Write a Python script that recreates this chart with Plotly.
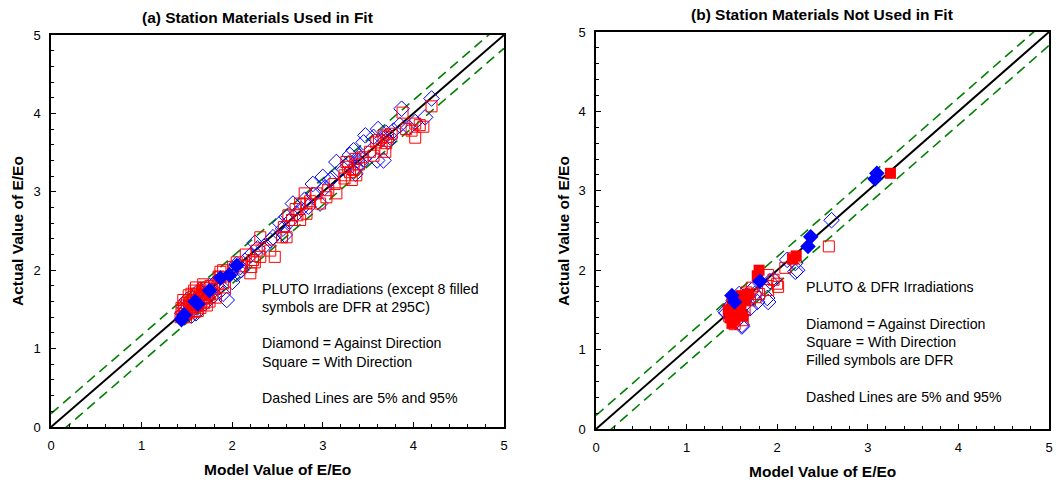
import plotly.graph_objects as go

# ---------------- Data: panel (a) ----------------
a_diam_x = [4.20, 3.87, 4.13, 4.02, 3.85, 3.70, 3.74, 3.61, 3.47, 3.45, 3.45, 3.34, 3.38, 3.36, 3.42, 3.15,
            3.30, 3.22, 3.10, 3.72, 3.78, 3.66, 3.56, 3.28, 3.40, 3.95, 3.60, 3.67, 3.36,
            3.00, 3.08, 2.89, 2.67, 2.84, 2.71, 2.60, 2.56, 2.45, 2.42, 2.97, 2.80, 2.90, 2.63, 2.53, 3.02, 2.76, 2.58,
            2.28, 2.20, 2.05, 2.09, 2.10, 1.94, 1.90, 2.00, 2.35, 2.25, 2.14, 1.98, 2.05,
            1.45, 1.48, 1.52, 1.55, 1.58, 1.62, 1.65, 1.68, 1.72, 1.75, 1.78, 1.82, 1.50, 1.46, 1.60, 1.70, 1.85,
            1.55, 1.64, 1.80]
a_diam_y = [4.19, 4.06, 3.95, 3.89, 3.85, 3.75, 3.70, 3.80, 3.72, 3.63, 3.42, 3.53, 3.40, 3.31, 3.36, 3.38,
            3.47, 3.30, 3.17, 3.64, 3.78, 3.68, 3.70, 3.36, 3.45, 3.82, 3.40, 3.40, 3.23,
            3.19, 3.15, 3.10, 2.85, 2.81, 2.72, 2.68, 2.53, 2.42, 2.38, 2.85, 2.90, 2.96, 2.62, 2.60, 3.05, 2.78, 2.45,
            2.28, 2.19, 2.08, 2.04, 2.00, 1.62, 1.70, 1.85, 2.30, 2.35, 2.12, 1.95, 1.95,
            1.45, 1.52, 1.48, 1.58, 1.52, 1.65, 1.60, 1.70, 1.66, 1.80, 1.72, 1.85, 1.62, 1.40, 1.45, 1.58, 1.78,
            1.42, 1.75, 1.68]

a_sq_x = [3.88, 4.20, 4.02, 4.11, 4.02, 3.98, 4.07, 3.67, 3.72, 3.59, 3.65, 3.69, 3.52, 3.56, 3.76, 3.70, 3.62,
          3.26, 3.24, 3.30, 3.24, 3.32, 3.37, 3.36, 3.40, 3.34, 3.44, 3.28, 3.13, 3.06, 3.15, 3.92,
          2.97, 2.80, 2.75, 2.82, 2.66, 2.75, 2.60, 2.55, 2.31, 2.42, 2.47, 2.27, 2.31, 2.23, 2.21,
          3.04, 2.82, 2.70, 2.86, 2.57, 2.62, 2.93, 2.72,
          2.20, 2.25, 1.90, 2.01, 1.87, 1.90, 2.10, 2.15, 2.05,
          1.43, 1.45, 1.47, 1.48, 1.50, 1.50, 1.52, 1.53, 1.54, 1.55, 1.56, 1.57, 1.58, 1.59, 1.60, 1.61,
          1.62, 1.63, 1.64, 1.65, 1.66, 1.67, 1.68, 1.69, 1.70, 1.71, 1.72, 1.74, 1.75, 1.76, 1.78, 1.80,
          1.82, 1.84, 1.46, 1.44, 1.52, 1.58, 1.62, 1.68, 1.49, 1.55, 1.72, 1.60, 1.47, 1.66, 1.57, 1.53,
          1.87, 1.85, 1.92, 1.69]
a_sq_y = [4.01, 4.09, 3.87, 3.83, 3.69, 3.78, 3.85, 3.72, 3.70, 3.63, 3.55, 3.51, 3.51, 3.46, 3.74, 3.62, 3.66,
          3.38, 3.21, 3.25, 3.17, 3.15, 3.21, 3.42, 3.35, 3.28, 3.44, 3.32, 3.10, 3.02, 2.98, 3.80,
          2.85, 2.98, 2.85, 2.72, 2.64, 2.64, 2.42, 2.42, 2.42, 2.25, 2.17, 2.25, 2.17, 2.13, 2.04,
          2.93, 2.85, 2.78, 2.88, 2.55, 2.70, 2.98, 2.70,
          1.96, 2.10, 2.00, 2.04, 1.91, 1.83, 2.05, 2.20, 2.10,
          1.40, 1.48, 1.55, 1.44, 1.50, 1.58, 1.45, 1.62, 1.53, 1.48, 1.58, 1.66, 1.55, 1.47, 1.60, 1.70,
          1.55, 1.63, 1.68, 1.52, 1.60, 1.74, 1.66, 1.58, 1.70, 1.78, 1.64, 1.72, 1.60, 1.80, 1.70, 1.76,
          1.65, 1.82, 1.62, 1.52, 1.68, 1.74, 1.48, 1.82, 1.40, 1.70, 1.55, 1.78, 1.50, 1.68, 1.60, 1.56,
          1.98, 1.92, 1.78, 1.77]

a_fdiam_x = [1.44, 1.47, 1.59, 1.62, 1.75, 1.87, 1.97, 2.05]
a_fdiam_y = [1.37, 1.43, 1.60, 1.57, 1.74, 1.90, 1.94, 2.06]

# ---------------- Data: panel (b) ----------------
b_diam_x = [2.60, 2.11, 2.20, 2.20, 2.22, 1.89, 1.90, 1.72, 1.61, 1.44, 1.61, 1.96, 1.92, 1.48, 1.55, 1.52,
            1.58, 1.65, 1.68, 1.50, 1.70, 1.62, 1.78, 1.54, 1.75, 1.43]
b_diam_y = [2.63, 2.13, 2.09, 1.98, 2.00, 1.65, 1.60, 1.75, 1.31, 1.46, 1.29, 1.88, 1.86, 1.55, 1.50, 1.62,
            1.70, 1.58, 1.68, 1.40, 1.52, 1.45, 1.60, 1.35, 1.70, 1.48]

b_sq_x = [2.57, 2.18, 2.09, 2.01, 1.96, 1.90, 1.90, 2.00, 1.62, 1.70, 1.66, 1.76, 1.58, 1.50, 1.55, 1.64,
          1.72, 1.80, 1.47, 1.53]
b_sq_y = [2.30, 2.15, 2.03, 1.79, 1.88, 1.94, 1.75, 1.83, 1.37, 1.62, 1.72, 1.66, 1.55, 1.48, 1.64, 1.50,
          1.78, 1.70, 1.42, 1.32]

b_fsq_x = [3.25, 2.21, 2.17, 1.80, 1.78, 1.50, 1.52, 1.55, 1.57, 1.48, 1.53, 1.60, 1.58, 1.50, 1.55, 1.62,
           1.65, 1.46, 1.68, 1.60]
b_fsq_y = [3.22, 2.18, 2.14, 2.00, 1.93, 1.58, 1.50, 1.45, 1.55, 1.40, 1.38, 1.48, 1.62, 1.33, 1.60, 1.42,
           1.62, 1.50, 1.70, 1.68]

b_fdiam_x = [3.08, 3.10, 2.37, 2.34, 1.81, 1.50, 1.53]
b_fdiam_y = [3.15, 3.22, 2.42, 2.30, 1.86, 1.68, 1.60]

line_x = [0, 5]
line_y = [0, 5]
band = 0.17
upper_y = [0 + band, 5 + band]
lower_y = [0 - band, 5 - band]

W, H = 1060, 483
FONT = "Liberation Sans, Arial, sans-serif"

fig = go.Figure()

BLUE = "#0000FF"
RED = "#FF0000"
GREEN = "#008000"


def add_panel(xa, ya, diam, sq, fdiam, fsq):
    for yy in (upper_y, lower_y):
        fig.add_trace(go.Scatter(x=line_x, y=yy, mode="lines", xaxis=xa, yaxis=ya,
                                 line=dict(color=GREEN, width=1.6, dash="10px,6px"),
                                 showlegend=False, hoverinfo="skip"))
    fig.add_trace(go.Scatter(x=line_x, y=line_y, mode="lines", xaxis=xa, yaxis=ya,
                             line=dict(color="black", width=2), showlegend=False, hoverinfo="skip"))
    if diam:
        fig.add_trace(go.Scatter(x=diam[0], y=diam[1], mode="markers", xaxis=xa, yaxis=ya,
                                 marker=dict(symbol="diamond-open", size=12, color=BLUE, line=dict(width=1)),
                                 showlegend=False))
    if sq:
        fig.add_trace(go.Scatter(x=sq[0], y=sq[1], mode="markers", xaxis=xa, yaxis=ya,
                                 marker=dict(symbol="square-open", size=11, color=RED, line=dict(width=1)),
                                 showlegend=False))
    if fsq:
        fig.add_trace(go.Scatter(x=fsq[0], y=fsq[1], mode="markers", xaxis=xa, yaxis=ya,
                                 marker=dict(symbol="square", size=11, color=RED), showlegend=False))
    if fdiam:
        fig.add_trace(go.Scatter(x=fdiam[0], y=fdiam[1], mode="markers", xaxis=xa, yaxis=ya,
                                 marker=dict(symbol="diamond", size=12, color=BLUE), showlegend=False))


add_panel("x", "y", (a_diam_x, a_diam_y), (a_sq_x, a_sq_y), (a_fdiam_x, a_fdiam_y), None)
add_panel("x2", "y2", (b_diam_x, b_diam_y), (b_sq_x, b_sq_y), (b_fdiam_x, b_fdiam_y), (b_fsq_x, b_fsq_y))

ax_common = dict(range=[0, 5], dtick=1, showgrid=False, zeroline=False, showline=True,
                 linecolor="black", linewidth=1.5, mirror=True, ticks="inside", ticklen=5,
                 tickcolor="black", tickwidth=1.2,
                 minor=dict(dtick=0.2, ticks="inside", ticklen=3, tickcolor="black", tickwidth=1.2, showgrid=False),
                 tickfont=dict(family=FONT, size=13, color="black"), fixedrange=True, automargin=False)


def px2fx(p):
    return p / W


def py2fy(p):
    return 1 - p / H


fig.update_layout(
    width=W, height=H,
    margin=dict(l=0, r=0, t=0, b=0),
    paper_bgcolor="white", plot_bgcolor="white",
    font=dict(family=FONT, color="black"),
    xaxis=dict(ax_common, domain=[px2fx(51), px2fx(504)], anchor="y", ticklabelstandoff=6),
    yaxis=dict(ax_common, domain=[py2fy(427), py2fy(35)], anchor="x", ticklabelstandoff=6),
    xaxis2=dict(ax_common, domain=[px2fx(596), px2fx(1049)], anchor="y2", ticklabelstandoff=6),
    yaxis2=dict(ax_common, domain=[py2fy(429), py2fy(32)], anchor="x2", ticklabelstandoff=6),
)

anns = []


def text(x, y, s, size=14, bold=False, xanchor="left", angle=0):
    anns.append(dict(x=px2fx(x), y=py2fy(y), xref="paper", yref="paper", text=("<b>%s</b>" % s) if bold else s,
                     showarrow=False, xanchor=xanchor, yanchor="middle", align="left", textangle=angle,
                     font=dict(family=FONT, size=size, color="black")))


TS = 15.5
text(257, 17, "(a) Station Materials Used in Fit", size=TS, bold=True, xanchor="center")
text(822, 14, "(b) Station Materials Not Used in Fit", size=TS, bold=True, xanchor="center")
text(277, 469, "Model Value of E/Eo", size=TS, bold=True, xanchor="center")
text(822, 471, "Model Value of E/Eo", size=TS, bold=True, xanchor="center")
text(17, 231, "Actual Value of E/Eo", size=TS, bold=True, xanchor="center", angle=-90)
text(563, 231, "Actual Value of E/Eo", size=TS, bold=True, xanchor="center", angle=-90)

NS = 14.2
text(260, 289, "PLUTO Irradiations (except 8 filled", size=NS)
text(260, 307, "symbols are DFR at 295C)", size=NS)
text(260, 343, "Diamond = Against Direction", size=NS)
text(260, 362, "Square = With Direction", size=NS)
text(260, 398, "Dashed Lines are 5% and 95%", size=NS)

text(804, 287, "PLUTO & DFR Irradiations", size=NS)
text(804, 324, "Diamond = Against Direction", size=NS)
text(804, 342, "Square = With Direction", size=NS)
text(804, 360, "Filled symbols are DFR", size=NS)
text(804, 397, "Dashed Lines are 5% and 95%", size=NS)

fig.update_layout(annotations=anns)

fig.write_html("out.html", config={"displayModeBar": False},
               post_script="document.body.style.margin='0';document.body.style.padding='0';"
                           "document.documentElement.style.overflow='hidden';")
